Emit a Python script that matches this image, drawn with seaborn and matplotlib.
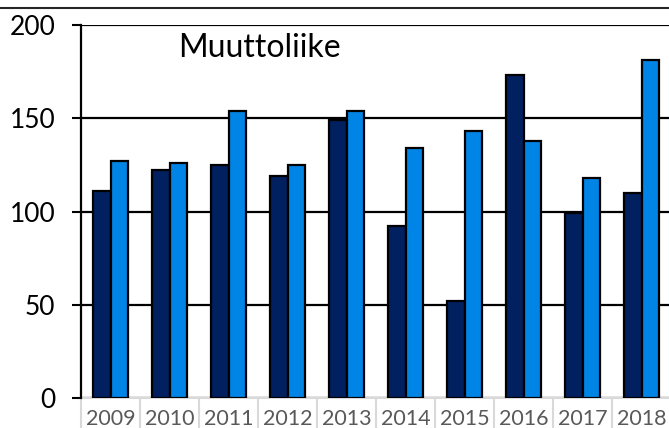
import pandas as pd
import matplotlib.pyplot as plt
import seaborn as sns
from matplotlib.lines import Line2D
from matplotlib.transforms import blended_transform_factory

# Values
vuodet = ['2009', '2010', '2011', '2012', '2013', '2014', '2015', '2016', '2017', '2018']
sarja1 = [111, 122, 125, 119, 149, 92, 52, 173, 99, 110]
sarja2 = [127, 126, 154, 125, 154, 134, 143, 138, 118, 181]
otsikko = 'Muuttoliike'
y_ticks = [0, 50, 100, 150, 200]

df = pd.DataFrame({
    'vuosi': vuodet * 2,
    'arvo': sarja1 + sarja2,
    'sarja': ['sarja1'] * len(vuodet) + ['sarja2'] * len(vuodet),
})

sns.set_theme(style='white')
plt.rcParams['font.family'] = ['Lato', 'DejaVu Sans']

fig = plt.figure(figsize=(6.69, 4.28), dpi=100)
ax = fig.add_axes([81 / 669, 30 / 428, 590 / 669, 373 / 428])

sns.barplot(data=df, x='vuosi', y='arvo', hue='sarja', ax=ax,
            palette=['#002060', '#0084E6'], saturation=1, width=0.58,
            edgecolor='black', linewidth=1.6, legend=False, zorder=3)

ax.set_xlim(-0.5, len(vuodet) - 0.5)
ax.set_ylim(0, 200)
ax.set_yticks(y_ticks)
ax.yaxis.grid(True, color='black', linewidth=1.6, zorder=1)
ax.set_axisbelow(True)
ax.tick_params(axis='y', left=True, length=6.5, width=1.5, color='black',
               labelsize=19, pad=12, labelcolor='black')
ax.tick_params(axis='x', bottom=False, length=0, labelsize=15.5,
               labelcolor='#595959', pad=8)
ax.set_xlabel('')
ax.set_ylabel('')

for side in ['top', 'right']:
    ax.spines[side].set_visible(False)
ax.spines['left'].set_color('black')
ax.spines['left'].set_linewidth(1.6)
ax.spines['left'].set_zorder(4)
ax.spines['bottom'].set_color('#d9d9d9')
ax.spines['bottom'].set_linewidth(1.5)

# cell borders under the category labels
trans = blended_transform_factory(ax.transData, ax.transAxes)
for i in range(len(vuodet) + 1):
    ax.plot([i - 0.5, i - 0.5], [0, -0.1], transform=trans,
            color='#d9d9d9', linewidth=1.5, clip_on=False)

fig.text(178 / 669, 1 - 57 / 428, otsikko, fontsize=23, color='black',
         va='baseline', ha='left')

# chart frame line at the top
fig.add_artist(Line2D([0, 1], [1 - 7.5 / 428, 1 - 7.5 / 428],
                      transform=fig.transFigure, color='#262626', linewidth=1.5))

plt.savefig('out.png', dpi=100)
